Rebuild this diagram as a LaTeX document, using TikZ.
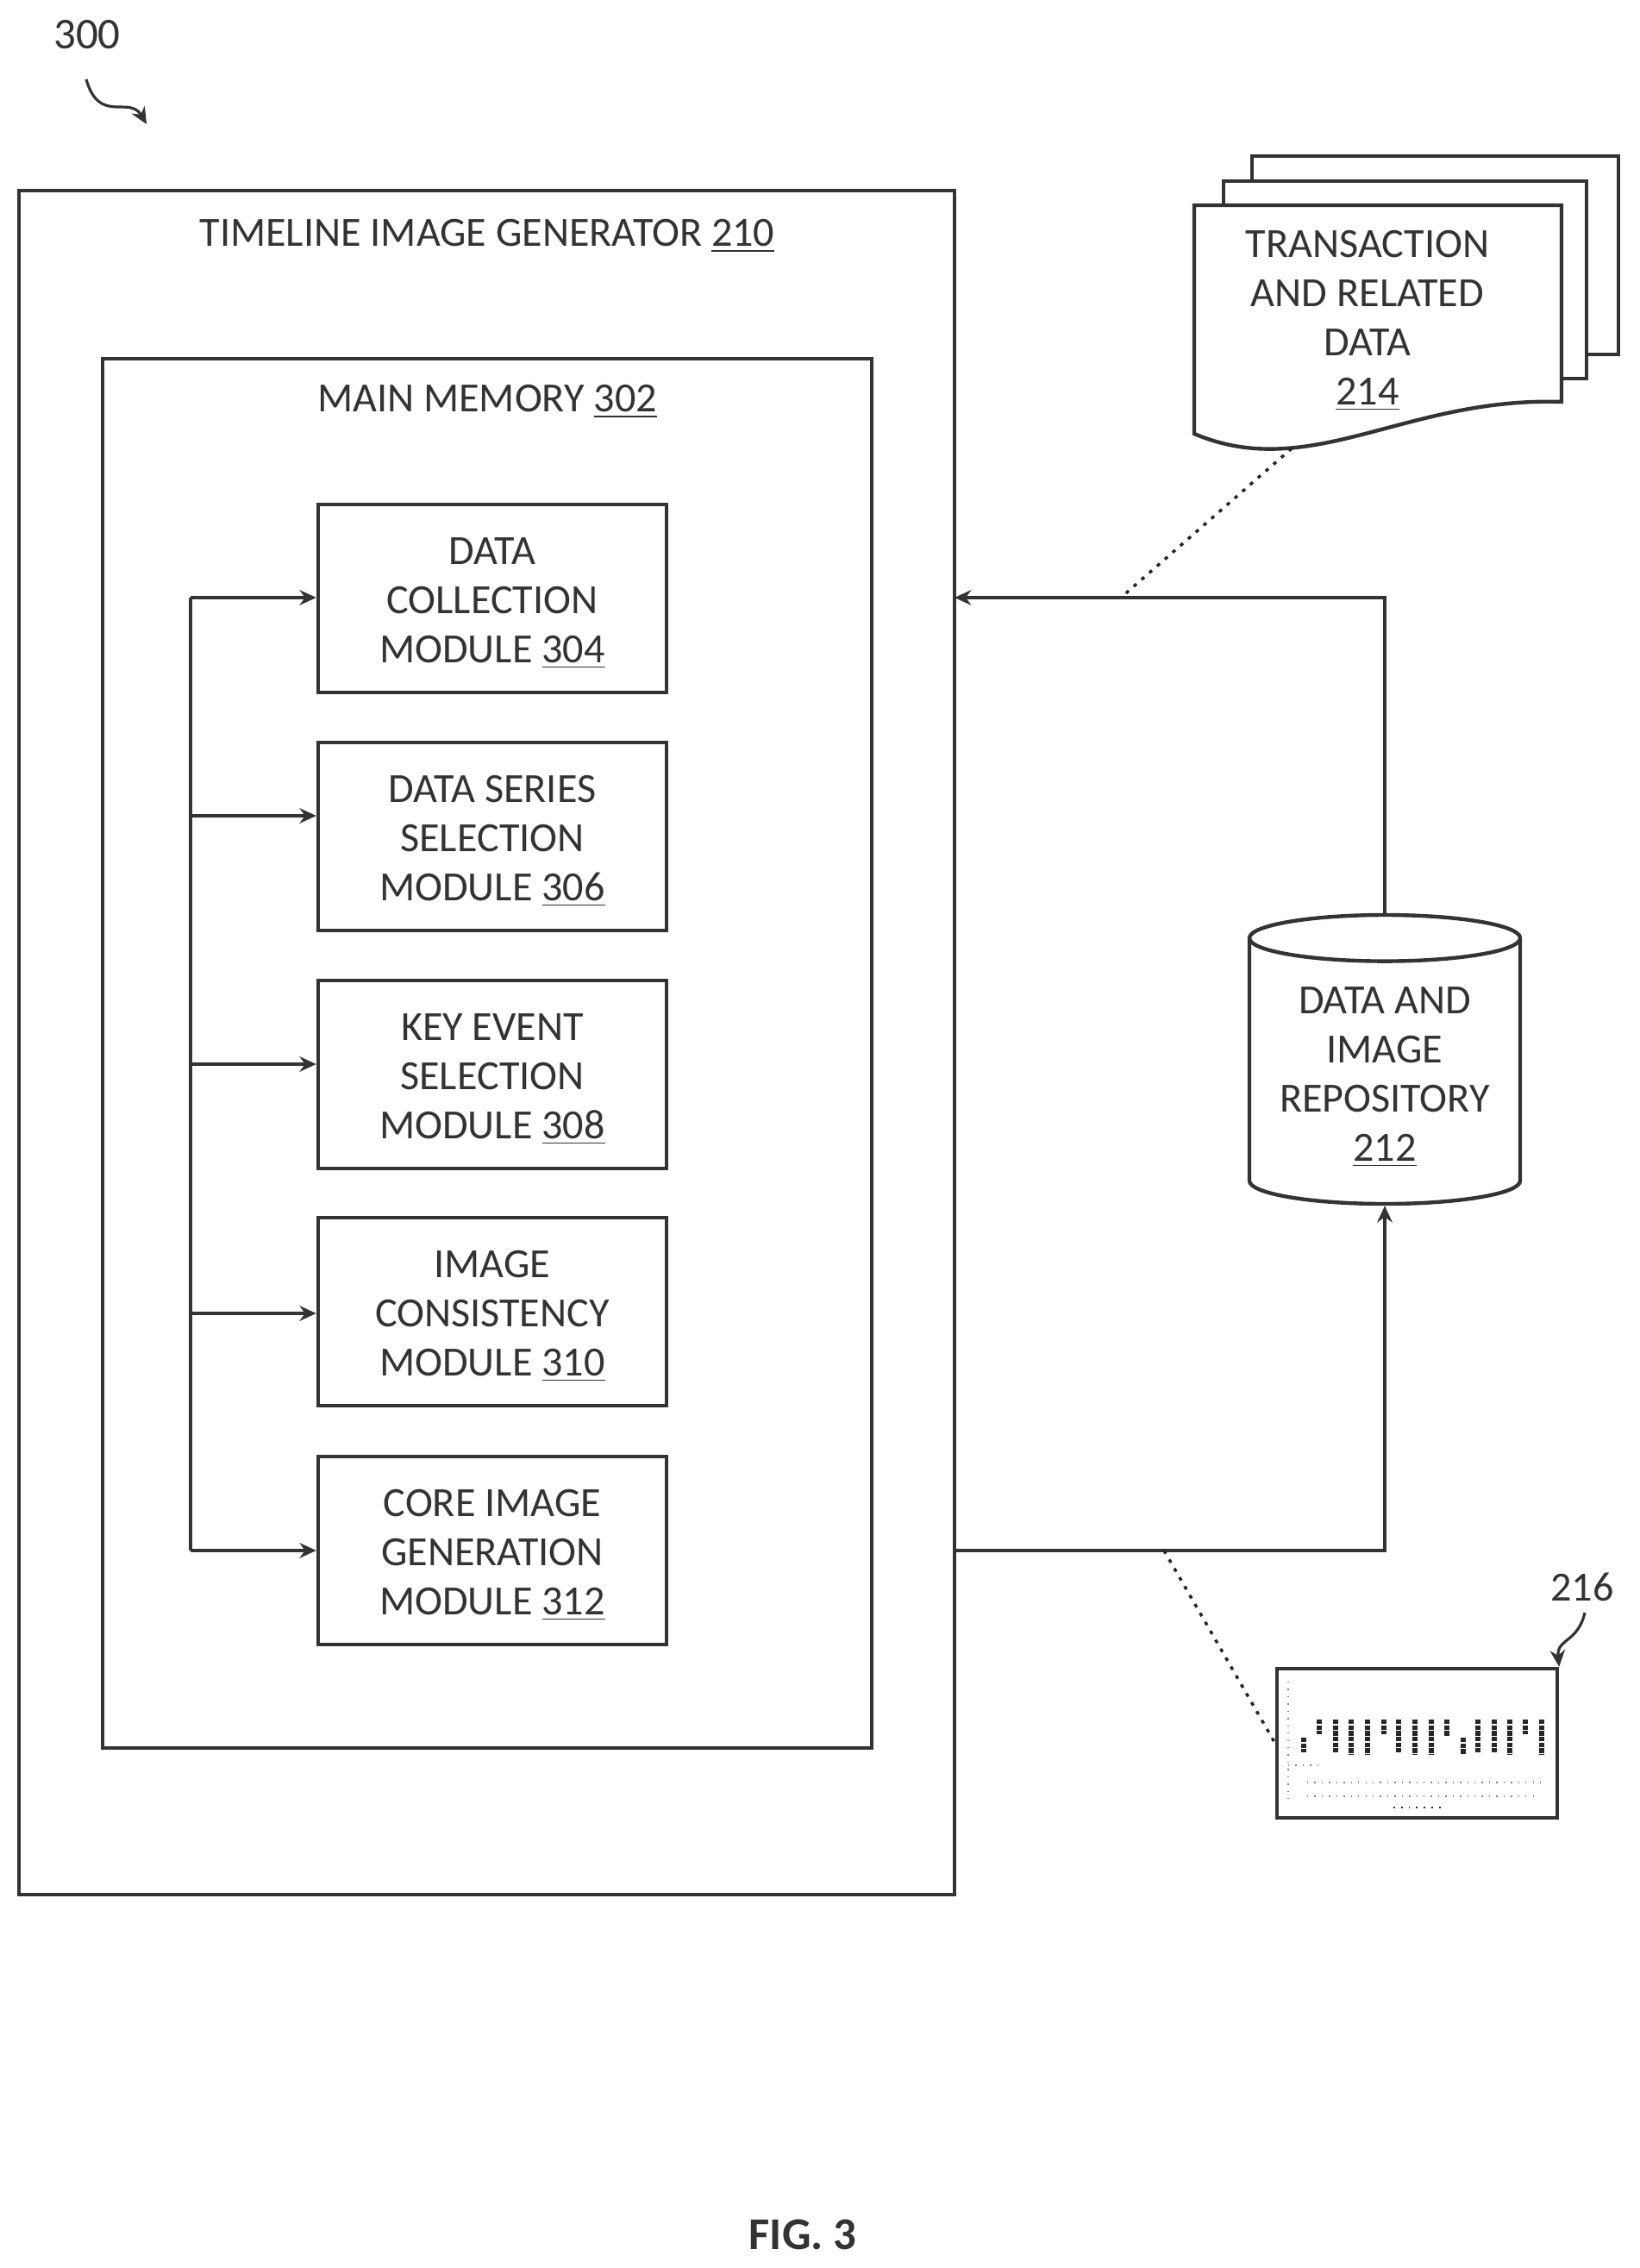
\documentclass[tikz,border=0pt]{standalone}
\usepackage{fontspec}
\setmainfont{Carlito}
\usetikzlibrary{shapes.geometric,arrows.meta}

\newcommand{\firstline}[1]{\rule{0pt}{#1}}

\tikzset{
  mainline/.style={black!80,line width=1.25pt},
  modulebox/.style={draw,mainline,minimum width=4.04cm,minimum height=2.18cm,align=center},
  label/.style={font=\fontsize{13.7}{16.2}\selectfont,black!80,align=center},
  pagebox/.style={mainline,fill=white},
  bar/.style={black!85,line width=1.6pt,dash pattern=on 1.5pt off 0.4pt},
  speck/.style={black!50,line width=0.4pt,dotted},
  link/.style={black!85,line width=1pt,dash pattern=on 1.2pt off 2.2pt}
}

\begin{document}
\begin{tikzpicture}[>={Stealth[length=5.5pt,width=5pt]}]

  \useasboundingbox (0,0) rectangle (19.01,-26.30);

  % reference numeral
  \node[label,font=\fontsize{14.5}{16}\selectfont] (num300) at (1.01,-0.40) {300};
  \coordinate (tip300) at (1.70,-1.44);
  \draw[mainline,line width=0.9pt,->] (1.0,-0.92) .. controls (1.15,-1.45) and (1.5,-1.1) .. (tip300);

  % generator and memory
  \node[draw,mainline,minimum width=10.85cm,minimum height=19.76cm] (generator) at (5.645,-12.09) {};
  \node[label] (generatorlabel) at (5.65,-2.74) {TIMELINE IMAGE GENERATOR \underline{210}};
  \node[draw,mainline,minimum width=8.92cm,minimum height=16.11cm] (memory) at (5.65,-12.215) {};
  \node[label] (memorylabel) at (5.65,-4.66) {MAIN MEMORY \underline{302}};

  % modules
  \node[modulebox,label] (collection) at (5.71,-6.94) {\firstline{12pt}DATA\\COLLECTION\\MODULE \underline{304}};
  \node[modulebox,label] (series) at (5.71,-9.70) {\firstline{12pt}DATA SERIES\\SELECTION\\MODULE \underline{306}};
  \node[modulebox,label] (keyevent) at (5.71,-12.46) {\firstline{12pt}KEY EVENT\\SELECTION\\MODULE \underline{308}};
  \node[modulebox,label] (consistency) at (5.71,-15.21) {\firstline{12pt}IMAGE\\CONSISTENCY\\MODULE \underline{310}};
  \node[modulebox,label] (coreimage) at (5.71,-17.98) {\firstline{12pt}CORE IMAGE\\GENERATION\\MODULE \underline{312}};

  % bus
  \coordinate (bus304) at (2.21,-6.93);
  \coordinate (bus306) at (2.21,-9.46);
  \coordinate (bus308) at (2.21,-12.34);
  \coordinate (bus310) at (2.21,-15.23);
  \coordinate (bus312) at (2.21,-17.98);
  \draw[mainline] (bus304) -- (bus312);
  \draw[mainline,->] (bus304) -- (bus304 -| collection.west);
  \draw[mainline,->] (bus306) -- (bus306 -| series.west);
  \draw[mainline,->] (bus308) -- (bus308 -| keyevent.west);
  \draw[mainline,->] (bus310) -- (bus310 -| consistency.west);
  \draw[mainline,->] (bus312) -- (bus312 -| coreimage.west);

  % repository
  \node[draw,mainline,label,cylinder,shape border rotate=90,aspect=0.22,inner sep=0pt,
        minimum width=3.14cm,minimum height=3.35cm] (repository) at (16.06,-12.43)
        {\firstline{12.4pt}DATA AND\\IMAGE\\REPOSITORY\\\underline{212}};

  \coordinate (genin) at (11.07,-6.93);
  \coordinate (genout) at (11.07,-17.98);
  \draw[mainline,->] (repository.top) |- (genin);
  \draw[mainline,->] (genout) -| (repository.bottom);

  % stacked pages
  \draw[pagebox] (14.52,-1.81) rectangle (18.77,-4.11);
  \draw[pagebox] (14.19,-2.10) rectangle (18.40,-4.39);
  \draw[pagebox] (13.85,-2.38) -- (18.11,-2.38) -- (18.11,-4.66)
    .. controls (16.3,-4.6) and (15.2,-5.6) .. (13.85,-5.03) -- cycle;
  \node[label] (pages) at (15.86,-3.72) {TRANSACTION\\AND RELATED\\DATA\\\underline{214}};

  \coordinate (pagefoot) at (14.98,-5.20);
  \coordinate (upperjoin) at (13.00,-6.93);
  \draw[link] (pagefoot) -- (upperjoin);

  % thumbnail
  \node[draw,mainline,minimum width=3.25cm,minimum height=1.73cm] (thumb) at (16.435,-20.215) {};
  \coordinate (lowerjoin) at (13.50,-17.98);
  \draw[link] (lowerjoin) -- (thumb.west);

  \draw[bar] (15.12,-20.15) -- (15.12,-20.32);
  \draw[bar] (15.30,-19.94) -- (15.30,-20.11);
  \draw[bar] (15.49,-19.94) -- (15.49,-20.32);
  \draw[bar] (15.67,-19.94) -- (15.67,-20.35);
  \draw[bar] (15.86,-19.94) -- (15.86,-20.35);
  \draw[bar] (16.05,-19.94) -- (16.05,-20.11);
  \draw[bar] (16.22,-19.94) -- (16.22,-20.32);
  \draw[bar] (16.41,-19.94) -- (16.41,-20.35);
  \draw[bar] (16.60,-19.94) -- (16.60,-20.35);
  \draw[bar] (16.78,-19.94) -- (16.78,-20.13);
  \draw[bar] (16.97,-20.15) -- (16.97,-20.35);
  \draw[bar] (17.14,-19.94) -- (17.14,-20.32);
  \draw[bar] (17.33,-19.94) -- (17.33,-20.32);
  \draw[bar] (17.51,-19.94) -- (17.51,-20.35);
  \draw[bar] (17.69,-19.94) -- (17.69,-20.11);
  \draw[bar] (17.88,-19.94) -- (17.88,-20.35);

  \draw[speck] (15.16,-20.67) -- (17.91,-20.67);
  \draw[speck] (15.16,-20.83) -- (17.83,-20.83);
  \draw[speck] (14.94,-19.50) -- (14.94,-20.86);
  \draw[speck] (14.94,-20.47) -- (15.30,-20.47);
  \draw[black!85,line width=0.5pt,dotted] (16.16,-20.96) -- (16.73,-20.96);

  \node[label,font=\fontsize{13.7}{16}\selectfont] (num216) at (18.35,-18.40) {216};
  \draw[mainline,line width=0.9pt,->] (18.38,-18.70) .. controls (18.30,-19.05) and (18.05,-19.0) .. (thumb.north east);

  \node[font=\fontsize{15}{16}\selectfont\bfseries,black!80] (figlabel) at (9.31,-25.91) {FIG. 3};

\end{tikzpicture}
\end{document}
